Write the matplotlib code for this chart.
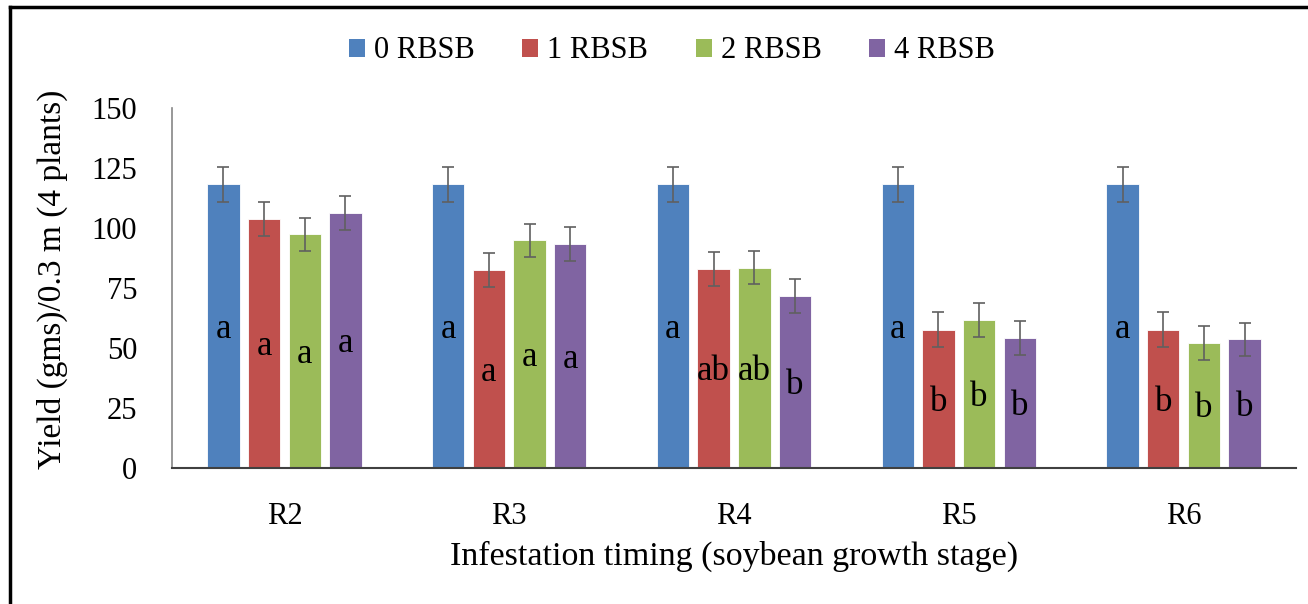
import matplotlib
matplotlib.use("Agg")
import matplotlib.pyplot as plt
from matplotlib.patches import Patch
from matplotlib.lines import Line2D
import numpy as np

plt.rcParams['font.family'] = ['Liberation Serif', 'DejaVu Serif']

stages = ["R2", "R3", "R4", "R5", "R6"]
series = ["0 RBSB", "1 RBSB", "2 RBSB", "4 RBSB"]
rbsb0 = [118.2, 118.2, 118.2, 118.2, 118.2]
rbsb1 = [103.8, 82.4, 82.9, 57.6, 57.6]
rbsb2 = [97.3, 94.8, 83.4, 61.5, 52.1]
rbsb4 = [106.2, 93.4, 71.5, 54.2, 53.5]
err0 = [7.2, 7.2, 7.2, 7.2, 7.2]
err1 = [7.2, 7.2, 7.2, 7.2, 7.2]
err2 = [7.0, 7.0, 7.0, 7.0, 7.0]
err4 = [7.0, 7.0, 7.0, 7.0, 7.0]
letters0 = ["a", "a", "a", "a", "a"]
letters1 = ["a", "a", "ab", "b", "b"]
letters2 = ["a", "a", "ab", "b", "b"]
letters4 = ["a", "a", "b", "b", "b"]
yticks = [0, 25, 50, 75, 100, 125, 150]

values = [rbsb0, rbsb1, rbsb2, rbsb4]
errors = [err0, err1, err2, err4]
letters = [letters0, letters1, letters2, letters4]
colors = ["#4F81BD", "#C0504D", "#9BBB59", "#8064A2"]

W, H = 1308, 604
fig = plt.figure(figsize=(W / 100, H / 100), dpi=100)
ax = fig.add_axes([172 / W, 1 - 467.7 / H, (1296 - 172) / W, (467.7 - 108) / H])

x = np.arange(len(stages))
step = 0.181
width = 0.144
for i in range(4):
    pos = x + (i - 1.5) * step
    ax.bar(pos, values[i], width=width, color=colors[i], edgecolor='white',
           linewidth=0.6, zorder=2)
    ax.errorbar(pos, values[i], yerr=errors[i], fmt='none', ecolor='#606060',
                elinewidth=1.2, capsize=4.5, capthick=1.2, zorder=3)
    for j in range(len(stages)):
        ax.text(pos[j], values[i][j] / 2 - 1.5, letters[i][j], ha='center',
                va='center', fontsize=25, color='black', zorder=4)

ax.set_xlim(-0.5, len(stages) - 0.5)
ax.set_ylim(0, 150)
ax.set_yticks(yticks)
ax.set_xticks(x)
ax.set_xticklabels(stages)
ax.tick_params(axis='both', length=0, labelsize=22)
ax.tick_params(axis='y', pad=25)
ax.tick_params(axis='x', pad=25)
for s in ['top', 'right']:
    ax.spines[s].set_visible(False)
ax.spines['left'].set_color('#868686')
ax.spines['left'].set_linewidth(1.2)
ax.spines['bottom'].set_color('#404040')
ax.spines['bottom'].set_linewidth(1.5)

fig.text(734 / W, 1 - 556 / H, "Infestation timing (soybean growth stage)",
         ha='center', va='center', fontsize=24.5)
fig.text(52 / W, 1 - 279 / H, "Yield (gms)/0.3 m (4 plants)", ha='center',
         va='center', rotation=90, fontsize=24)

handles = [Patch(facecolor=c, edgecolor='none') for c in colors]
fig.legend(handles, series, loc='center', bbox_to_anchor=(672 / W, 1 - 51 / H),
           ncol=4, frameon=False, fontsize=22, handlelength=0.52,
           handleheight=0.52, handletextpad=0.3, columnspacing=1.55)

# outer frame lines (left and top)
fig.add_artist(Line2D([10 / W, 10 / W], [0, 1 - 7 / H], transform=fig.transFigure,
                      color='black', linewidth=2.5))
fig.add_artist(Line2D([10 / W, 1], [1 - 7 / H, 1 - 7 / H], transform=fig.transFigure,
                      color='black', linewidth=2.5))

fig.savefig("out.png", dpi=100)
